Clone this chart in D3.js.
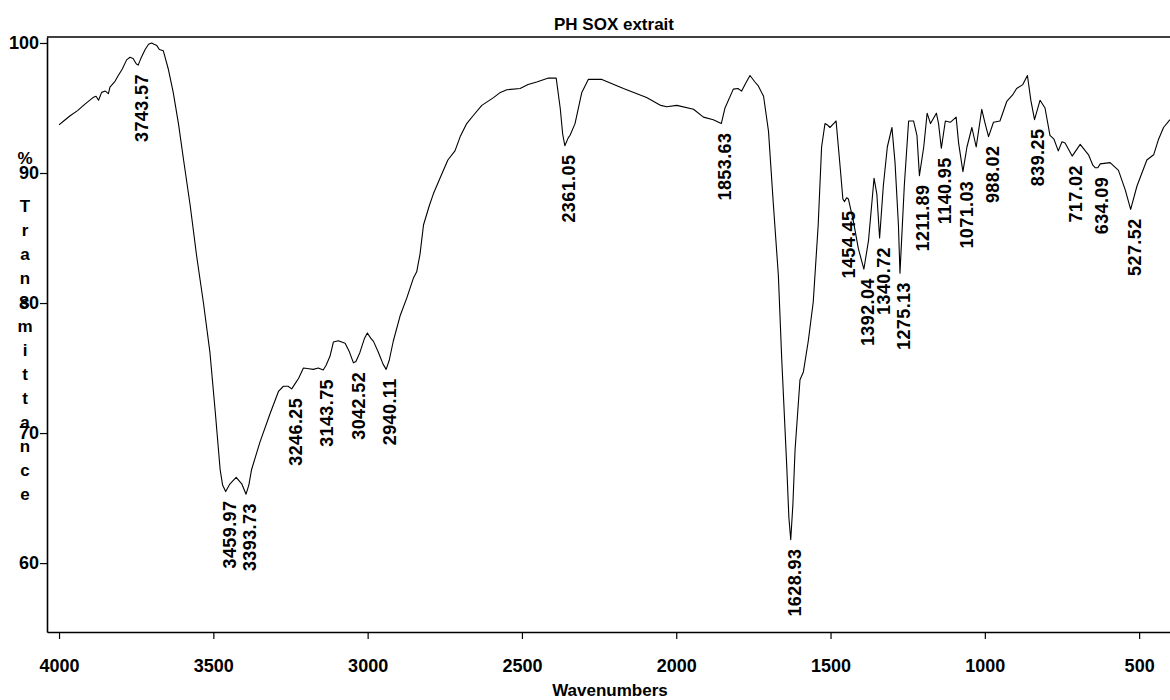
<!DOCTYPE html>
<html>
<head>
<meta charset="utf-8">
<script src="https://cdn.jsdelivr.net/npm/d3@7"></script>
<style>
  html, body { margin: 0; padding: 0; background: #fff; }
  svg { display: block; }
  text { font-family: "Liberation Sans", Arial, sans-serif; font-weight: bold; fill: #000; }
</style>
</head>
<body>
<svg id="chart" width="1170" height="700"></svg>
<script>
// ---- Data ----
const title = "PH SOX extrait";
const xTitle = "Wavenumbers";
const yTitle = "% Transmittance";
const xTicks = [4000, 3500, 3000, 2500, 2000, 1500, 1000, 500];
const yTicks = [100, 90, 80, 70, 60];

const wavenumbers = [4000,3985,3964,3940,3916,3900,3890,3880,3872,3862,3850,3840,3835,3820,3808,3795,3781,3770,3760,3750,3743.6,3735,3721,3710,3700,3692,3683,3675,3662,3646,3630,3613,3597,3575,3554,3532,3511,3494,3478,3470,3460,3446,3426,3408,3394,3385,3376,3349,3316,3289,3273,3258,3246,3235,3224,3208,3190,3176,3160,3144,3135,3122,3111,3095,3073,3060,3046,3038,3025,3010,3001,2990,2981,2965,2950,2940,2930,2917,2895,2873,2852,2841,2830,2819,2800,2787,2760,2740,2717,2700,2679,2655,2630,2592,2570,2549,2506,2480,2452,2414,2389,2376,2368,2361,2350,2344,2328,2306,2285,2241,2171,2096,2050,2031,1998,1944,1912,1880,1854,1842,1815,1800,1788,1775,1761,1745,1734,1717,1701,1685,1669,1658,1642,1635,1629,1622,1615,1599,1588,1572,1556,1540,1529,1518,1510,1502,1490,1482,1469,1460,1454.5,1448,1442,1426,1410,1392,1377,1365,1359,1350,1341,1329,1316,1301,1291,1280,1275,1261,1247,1231,1220,1212,1198,1187,1176,1157,1150,1141,1128,1112,1093,1085,1071,1058,1042,1028,1010,999,988,972,951,929,910,897,877,862,851,839,821,805,789,776,762,750,740,717,691,664,650,642,634,626,594,567,545,527.5,507,475,453,437,421,400];
const transmittance = [93.7,94.0,94.4,94.8,95.3,95.6,95.8,95.9,95.6,96.2,96.3,96.1,96.6,97.0,97.5,98.0,98.7,98.9,98.8,98.4,98.3,98.8,99.5,99.9,100.0,99.9,99.8,99.5,99.4,98.0,96.2,93.8,91.1,87.5,83.6,80.0,76.2,71.7,67.2,66.0,65.5,66.1,66.6,66.1,65.3,66.0,67.2,69.3,71.5,73.2,73.6,73.6,73.4,73.8,74.2,75.0,74.95,74.9,75.0,74.85,75.2,75.9,77.0,77.1,76.9,76.3,75.4,75.5,76.2,77.3,77.7,77.3,77.05,76.2,75.3,74.9,75.6,77.06,79.0,80.4,81.9,82.4,83.8,86.0,87.5,88.4,89.9,91.0,91.7,92.8,93.8,94.5,95.2,95.8,96.2,96.4,96.5,96.8,97.0,97.3,97.3,95.0,93.0,92.1,92.7,92.9,93.8,96.2,97.2,97.2,96.5,95.8,95.2,95.1,95.2,94.9,94.3,94.1,93.8,95.0,96.45,96.5,96.3,96.9,97.5,97.0,96.7,95.9,93.2,87.5,82.1,75.6,67.5,63.5,61.8,64.5,68.7,74.1,74.7,77.1,80.1,86.0,92.0,93.8,93.7,93.5,93.8,94.0,90.5,88.0,87.8,88.1,88.0,86.3,84.2,82.6,84.8,88.0,89.6,88.4,85.0,89.0,92.0,93.5,90.8,86.0,82.3,89.0,94.0,94.0,92.9,89.8,92.0,94.6,93.8,94.6,93.8,91.9,94.0,93.9,94.3,92.3,90.1,92.0,93.5,92.0,94.9,93.8,92.8,93.9,94.0,95.5,96.0,96.5,96.8,97.5,95.6,94.1,95.6,95.0,92.9,92.6,91.7,92.4,92.3,91.3,92.2,91.4,90.6,90.4,90.4,90.7,90.8,90.2,88.7,87.2,89.0,91.0,91.4,92.6,93.5,94.1];

const peakWavenumbers = [3743.57,3459.97,3393.73,3246.25,3143.75,3042.52,2940.11,2361.05,1853.63,1628.93,1454.45,1392.04,1340.72,1275.13,1211.89,1140.95,1071.03,988.02,839.25,717.02,634.09,527.52];
const peakValues = [98.3,65.5,65.3,73.4,74.85,75.4,74.9,92.1,93.8,61.8,87.8,82.6,85.0,82.3,89.8,91.9,90.1,92.8,94.1,91.3,90.4,87.2];

// ---- Layout ----
const svg = d3.select("#chart");
const L = 47, R = 1170, T = 37, B = 632;

const x = d3.scaleLinear().domain([4039, 400]).range([L, R]);
const y = d3.scaleLinear().domain([54.7, 100.46]).range([B, T]);

// frame (top line)
svg.append("line").attr("x1", L).attr("x2", R).attr("y1", T).attr("y2", T)
  .attr("stroke", "#000").attr("stroke-width", 1.6);

// x axis
const gx = svg.append("g").attr("transform", `translate(0,${B})`)
  .call(d3.axisBottom(x).tickValues(xTicks).tickSize(7).tickSizeOuter(0).tickPadding(20).tickFormat(d3.format("d")));
gx.select(".domain").attr("stroke-width", 1.6);
gx.selectAll(".tick line").attr("stroke-width", 1.2);
gx.selectAll("text").style("font-size", "18px").style("font-family", "'Liberation Sans', Arial, sans-serif").style("font-weight", "bold");

// y axis
const gy = svg.append("g").attr("transform", `translate(${L},0)`)
  .call(d3.axisLeft(y).tickValues(yTicks).tickSize(7).tickSizeOuter(0).tickPadding(1).tickFormat(d3.format("d")));
gy.select(".domain").attr("stroke-width", 1.6);
gy.selectAll(".tick line").attr("stroke-width", 1.2);
gy.selectAll("text").style("font-size", "18px").style("font-family", "'Liberation Sans', Arial, sans-serif").style("font-weight", "bold");

// spectrum
const pts = wavenumbers.map((w, i) => [w, transmittance[i]]);
svg.append("path").datum(pts)
  .attr("fill", "none").attr("stroke", "#000").attr("stroke-width", 1.1)
  .attr("stroke-linejoin", "round")
  .attr("d", d3.line().x(d => x(d[0])).y(d => y(d[1])));

// peak labels
svg.append("g").selectAll("text").data(peakWavenumbers).join("text")
  .attr("transform", (w, i) => `translate(${x(w) + 4},${y(peakValues[i]) + 9}) rotate(-90)`)
  .attr("text-anchor", "end")
  .attr("dominant-baseline", "central")
  .style("font-size", "18px")
  .style("letter-spacing", "0.4px")
  .text(w => w.toFixed(2));

// title
svg.append("text").attr("x", 614).attr("y", 30).attr("text-anchor", "middle")
  .style("font-size", "17px").text(title);

// x title
svg.append("text").attr("x", 610).attr("y", 696).attr("text-anchor", "middle")
  .style("font-size", "17px").text(xTitle);

// y title: one character per line
const chars = Array.from(yTitle);
svg.append("g").selectAll("text").data(chars).join("text")
  .attr("x", 25).attr("y", (c, i) => 158.7 + i * 24)
  .attr("text-anchor", "middle").attr("dominant-baseline", "central")
  .style("font-size", "17px")
  .text(c => c);
</script>
</body>
</html>
